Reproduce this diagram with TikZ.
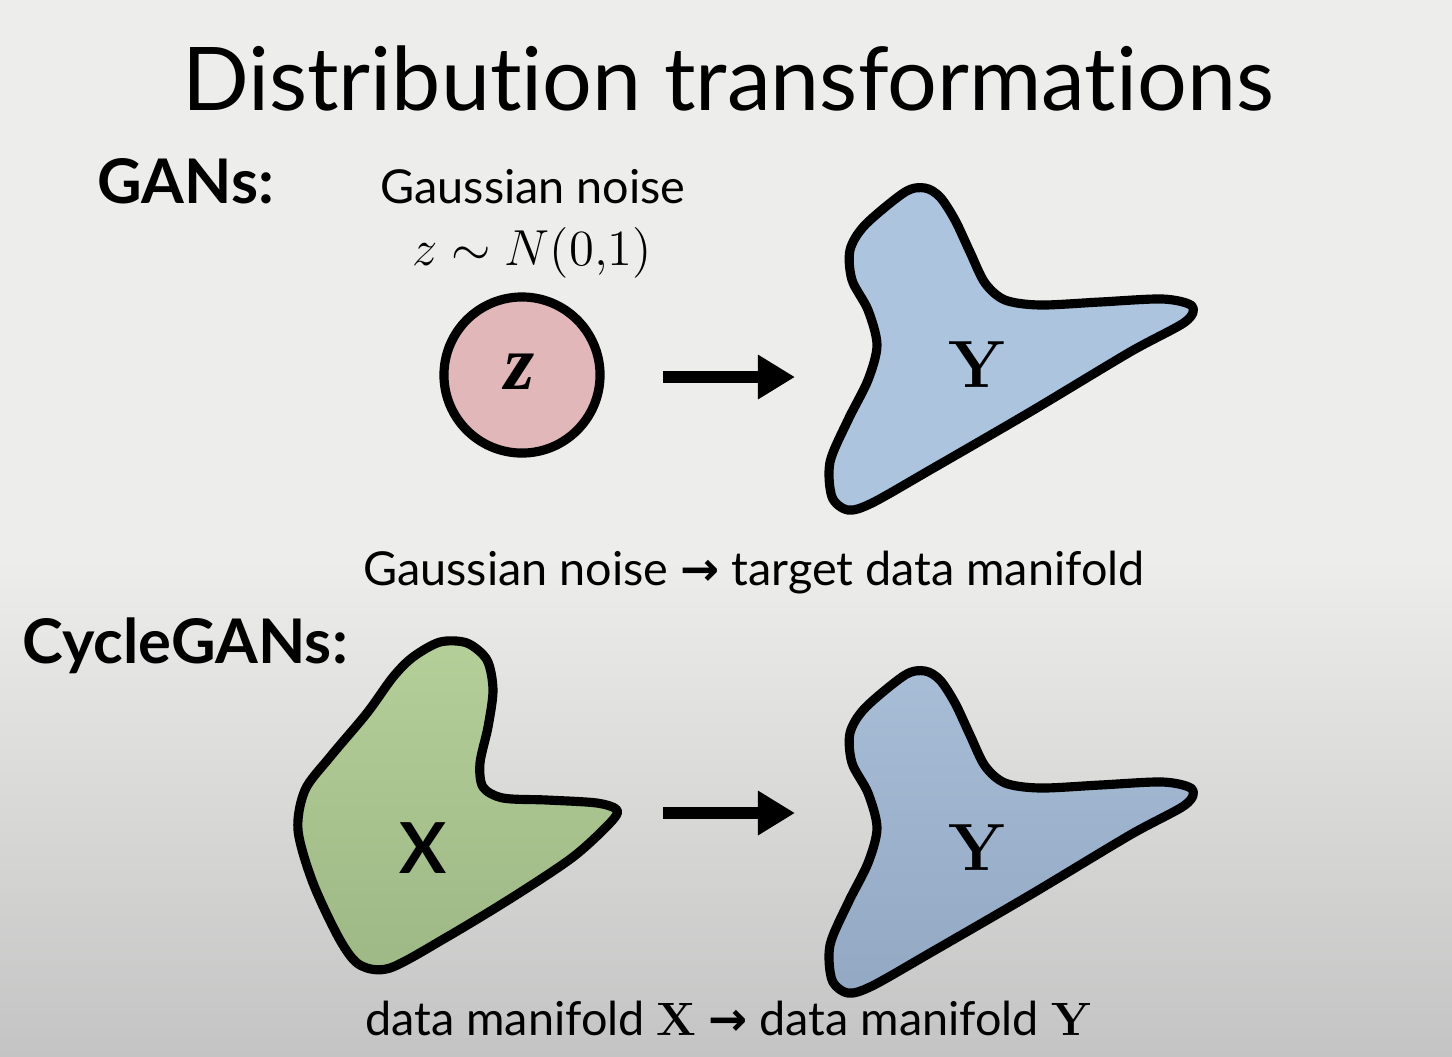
\documentclass[tikz,border=0pt]{standalone}
\usepackage{fontspec}
\setmainfont{Lato}[Ligatures=NoCommon]
\newfontfamily\seriffont{Latin Modern Roman}
\newfontfamily\timesfont{Liberation Serif}
\newfontfamily\arrowfont{DejaVu Sans}
\usetikzlibrary{arrows.meta}

\definecolor{bgtop}{RGB}{237,237,235}
\definecolor{bgbot}{RGB}{196,196,196}
\definecolor{pinkc}{RGB}{226,183,186}
\definecolor{bluet}{RGB}{172,196,221}
\definecolor{blueu}{RGB}{168,190,215}
\definecolor{bluel}{RGB}{146,168,195}
\definecolor{greenu}{RGB}{180,207,152}
\definecolor{greenl}{RGB}{158,184,134}

\begin{document}
\begin{tikzpicture}[x=0.01cm, y=-0.01cm,
		blob/.style = {draw=black, line width=2.6pt, line join=round},
		arr/.style  = {-{Triangle[length=0.37cm, width=0.42cm]}, line width=3.4pt},
		txt/.style  = {inner sep=0pt, anchor=base, font=\fontsize{13.3}{16}\selectfont},
		head/.style = {inner sep=0pt, anchor=base, font=\fontsize{17.5}{21}\selectfont\bfseries}
		]
		
		%Background
		\useasboundingbox (0,0) rectangle (1452,1056);
		\fill[bgtop] (0,0) rectangle (1452,560);
		\shade[top color=bgtop, bottom color=bgbot] (0,559) rectangle (1452,1056);
		
		%Shapes
		\draw[blob, fill=pinkc] (522,375) circle (0.78cm);
		\draw[blob, fill=bluet] plot[smooth cycle] coordinates {
			(905,192) (925,188) (940,197) (955,220) (970,252) (985,283) (1005,300)
			(1040,305) (1100,302) (1163,299) (1192,306) (1185,322) (1130,352)
			(1030,412) (930,470) (872,503) (848,510) (832,497) (830,462) (848,420)
			(868,380) (877,345) (868,310) (852,280) (850,250) (865,225)};
		\draw[blob, top color=blueu, bottom color=bluel, shift={(0,483)}] plot[smooth cycle] coordinates {
			(905,192) (925,188) (940,197) (955,220) (970,252) (985,283) (1005,300)
			(1040,305) (1100,302) (1163,299) (1192,306) (1185,322) (1130,352)
			(1030,412) (930,470) (872,503) (848,510) (832,497) (830,462) (848,420)
			(868,380) (877,345) (868,310) (852,280) (850,250) (865,225)};
		\draw[blob, top color=greenu, bottom color=greenl] plot[smooth cycle] coordinates {
			(413,657) (440,642) (467,643) (487,660) (493,690) (488,727) (480,763)
			(483,787) (503,798) (547,800) (597,803) (617,810) (610,823) (573,857)
			(513,897) (447,937) (390,968) (360,965) (340,940) (313,883) (298,830)
			(305,790) (330,757) (367,713) (393,677)};
		
		%Nodes
		\node[inner sep=0pt, anchor=base, font=\fontsize{25}{30}\selectfont] (title) at (728,110) {Distribution transformations};
		\node[head] (gans)  at (186,203) {GANs:};
		\node[head] (cycle) at (185,663) {CycleGANs:};
		\node[txt] (noise) at (533,203) {Gaussian noise};
		\node[inner sep=0pt, anchor=base, font=\fontsize{14}{16}\selectfont] (dist) at (532,265) {$z \sim N(0{,}1)$};
		\node[inner sep=0pt, font=\fontsize{22}{26}\selectfont\timesfont\bfseries\itshape] (zl) at (520,372) {z};
		\node[inner sep=0pt, anchor=base, font=\fontsize{19}{22}\selectfont\seriffont\bfseries] (yt) at (977,387) {Y};
		\node[inner sep=0pt, anchor=base, font=\fontsize{19}{22}\selectfont\seriffont\bfseries] (yb) at (977,870) {Y};
		\node[inner sep=0pt, anchor=base, font=\fontsize{20}{24}\selectfont\bfseries] (xl) at (423,873) {X};
		\node[txt] (cap1) at (754,585) {Gaussian noise {\arrowfont\bfseries →} target data manifold};
		\node[txt] (cap2) at (728,1035) {data manifold {\seriffont\bfseries X} {\arrowfont\bfseries →} data manifold {\seriffont\bfseries Y}};
		
		%Arrows
		\coordinate (a1s) at (663,377);
		\coordinate (a1e) at (795,377);
		\coordinate (a2s) at (663,813);
		\coordinate (a2e) at (795,813);
		\draw[arr] (a1s) -- (a1e);
		\draw[arr] (a2s) -- (a2e);
	\end{tikzpicture}
\end{document}
